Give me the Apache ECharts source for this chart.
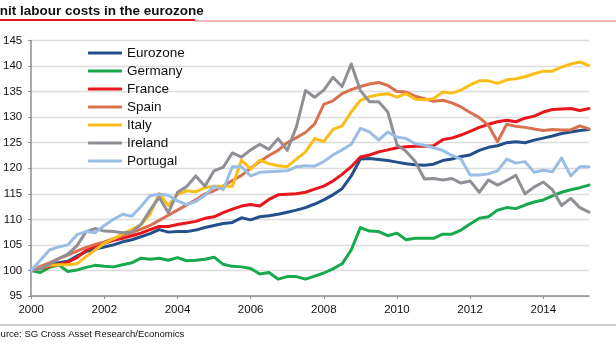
<!DOCTYPE html>
<html>
<head>
<meta charset="utf-8">
<script src="https://cdn.jsdelivr.net/npm/echarts@6/dist/echarts.min.js"></script>
<style>
html,body{margin:0;padding:0;background:#fff;}
#chart{width:616px;height:346px;}
</style>
</head>
<body>
<div id="chart"></div>
<script>
var quarters = ['2000Q1','2000Q2','2000Q3','2000Q4','2001Q1','2001Q2','2001Q3','2001Q4',
'2002Q1','2002Q2','2002Q3','2002Q4','2003Q1','2003Q2','2003Q3','2003Q4',
'2004Q1','2004Q2','2004Q3','2004Q4','2005Q1','2005Q2','2005Q3','2005Q4',
'2006Q1','2006Q2','2006Q3','2006Q4','2007Q1','2007Q2','2007Q3','2007Q4',
'2008Q1','2008Q2','2008Q3','2008Q4','2009Q1','2009Q2','2009Q3','2009Q4',
'2010Q1','2010Q2','2010Q3','2010Q4','2011Q1','2011Q2','2011Q3','2011Q4',
'2012Q1','2012Q2','2012Q3','2012Q4','2013Q1','2013Q2','2013Q3','2013Q4',
'2014Q1','2014Q2','2014Q3','2014Q4','2015Q1','2015Q2'];

var eurozone = [100,100.6,101.2,101.5,101.8,102.8,103.7,104.2,104.6,105.0,105.6,106.0,106.6,107.2,108.0,107.5,
107.6,107.6,107.9,108.4,108.8,109.2,109.4,110.3,109.9,110.5,110.7,111.0,111.4,111.8,112.3,113.0,
113.8,114.8,116.0,118.5,121.8,121.9,121.7,121.5,121.2,120.9,120.7,120.6,120.8,121.5,121.8,122.3,
122.6,123.5,124.1,124.4,125.0,125.2,125.0,125.5,125.9,126.3,126.8,127.1,127.4,127.6];

var germany = [100,99.6,100.6,101.1,99.8,100.1,100.6,101.0,100.8,100.7,101.1,101.5,102.4,102.2,102.4,102.0,
102.5,101.9,102.0,102.2,102.6,101.2,100.8,100.7,100.4,99.3,99.6,98.3,98.8,98.8,98.3,98.9,
99.5,100.3,101.3,104.0,108.4,107.7,107.6,106.8,107.3,106.0,106.3,106.3,106.3,107.1,107.1,107.9,
109.1,110.2,110.5,111.8,112.3,112.1,112.8,113.4,113.8,114.6,115.3,115.8,116.2,116.7];

var france = [100,100.4,100.8,101.2,101.6,102.5,103.9,104.8,105.3,105.9,106.3,106.8,107.3,108.0,108.6,108.6,
109.0,109.3,109.6,110.2,110.5,111.3,112.0,112.6,112.9,112.6,113.9,114.8,114.9,115.0,115.3,115.9,
116.5,117.5,118.8,120.3,122.2,122.6,123.2,123.6,124.0,124.2,124.3,124.3,124.4,125.6,125.9,126.5,
127.2,128.0,128.6,129.1,129.4,129.1,129.8,130.2,131.0,131.5,131.6,131.7,131.3,131.7];

var spain = [100,100.8,101.5,102.3,103.0,103.8,104.5,105.1,105.6,106.2,106.8,107.4,108.1,108.8,109.8,110.8,
111.8,112.8,113.8,115.0,115.6,116.5,117.6,118.6,120.0,121.3,122.5,123.5,125.0,126.0,127.0,128.7,
132.5,133.2,134.6,135.4,136.0,136.5,136.8,136.2,135.0,134.9,134.1,133.6,133.1,133.3,132.8,132.0,
130.9,129.9,128.4,125.2,128.6,128.2,128.0,127.7,127.4,127.6,127.5,127.5,128.3,127.7];

var italy = [100,100.5,101.0,101.1,101.1,101.3,102.7,104.0,105.3,106.2,107.2,108.0,108.9,111.0,115.1,112.7,
114.9,115.6,115.4,116.2,116.5,116.5,116.5,121.6,119.8,121.6,120.9,120.5,120.3,121.8,123.2,125.8,
125.2,127.6,128.3,131.0,133.3,134.0,134.4,134.6,133.9,134.6,133.5,133.4,133.6,134.9,134.7,135.3,
136.3,137.1,137.1,136.6,137.3,137.5,137.9,138.5,139.0,139.0,139.8,140.4,140.8,140.1];

var ireland = [100,100.4,101.2,102.3,103.2,104.8,107.6,108.2,107.7,107.6,107.4,107.5,109.0,111.8,114.3,111.3,
115.3,116.4,118.5,116.5,119.5,120.2,123.0,122.2,123.6,124.7,123.7,125.8,123.5,128.1,135.2,133.9,
135.3,137.8,136.0,140.4,135.2,133.0,133.0,131.0,124.6,123.3,121.3,117.9,118.0,117.7,118.0,117.1,
117.5,115.3,117.7,116.7,117.6,118.6,115.0,116.3,117.3,115.8,112.7,114.1,112.3,111.4];

var portugal = [100,102.0,104.0,104.6,105.0,107.0,107.6,107.4,108.8,110.0,111.0,110.6,112.5,114.6,114.9,114.7,
113.6,112.9,113.5,114.7,116.5,115.8,120.3,120.3,118.5,119.2,119.3,119.4,119.5,120.3,120.5,120.4,
121.3,122.6,123.6,124.7,127.8,127.1,125.5,127.1,126.1,125.8,124.8,124.5,124.0,123.5,122.5,121.8,
118.7,118.7,118.9,119.5,121.8,121.0,121.3,119.2,119.6,119.3,122.0,118.5,120.3,120.3];

var seriesNames = ['Eurozone','Germany','France','Spain','Italy','Ireland','Portugal'];
var seriesData = [eurozone, germany, france, spain, italy, ireland, portugal];
var seriesColors = ['#23508a','#17a94c','#e8161c','#d9714f','#fbbd19','#8f8f96','#99bde5'];

var chart = echarts.init(document.getElementById('chart'));
var series = seriesNames.map(function(n, k){
  return {
    name: n, type: 'line', data: seriesData[k], symbol: 'none',
    lineStyle: {width: 3, color: seriesColors[k], cap: 'round', join: 'round'},
    itemStyle: {color: seriesColors[k]},
    emphasis: {disabled: true}
  };
});

chart.setOption({
  animation: false,
  backgroundColor: '#fff',
  textStyle: {fontFamily: 'Liberation Sans, Arial, sans-serif'},
  graphic: [
    {type:'text', left: -10, top: 4, style:{text:'Unit labour costs in the eurozone', font:'bold 13.5px "Liberation Sans", Arial, sans-serif', fill:'#111'}},
    {type:'rect', shape:{x:0, y:19, width:195, height:2}, style:{fill:'#e0141b'}},
    {type:'rect', shape:{x:195, y:20.5, width:421, height:1}, style:{fill:'#e56a6a'}},
    {type:'rect', shape:{x:0, y:324.5, width:616, height:1}, style:{fill:'#9a9a9a'}},
    {type:'text', left: -11, top: 329, style:{text:'Source: SG Cross Asset Research/Economics', font:'9.5px "Liberation Sans", Arial, sans-serif', fill:'#111'}}
  ],
  legend: {
    orient: 'vertical', left: 83, top: 41, itemWidth: 34, itemHeight: 3, itemGap: 4,
    icon: 'roundRect',
    textStyle: {fontSize: 13.5, color: '#111', lineHeight: 14, padding: [0,0,0,0]},
    data: seriesNames
  },
  grid: {left: 29.5, right: 27, top: 40.5, bottom: 50, containLabel: false},
  xAxis: {
    type: 'category', data: quarters, boundaryGap: false,
    axisLine: {lineStyle: {color: '#8e8e8e', width: 1.5}},
    axisTick: {show: true, interval: 7, length: 3, lineStyle: {color: '#8e8e8e'}},
    axisLabel: {interval: 7, margin: 8, fontSize: 11.5, color: '#111', formatter: function(v){ return v.slice(0,4); }},
    splitLine: {show: false}
  },
  yAxis: {
    type: 'value', min: 95, max: 145, interval: 5,
    axisLine: {show: true, lineStyle: {color: '#8e8e8e', width: 1.5}},
    axisTick: {show: true, length: 3, lineStyle: {color: '#8e8e8e'}},
    axisLabel: {margin: 9, fontSize: 11.5, color: '#111'},
    splitLine: {lineStyle: {color: '#dcdcdc', width: 1.3}}
  },
  series: series
});
</script>
</body>
</html>
